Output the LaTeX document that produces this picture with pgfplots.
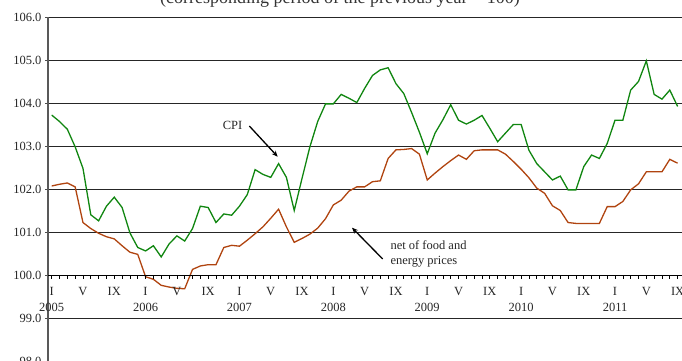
\documentclass[border=0pt]{standalone}
\usepackage{fontspec}
\setmainfont{Liberation Serif}
\usepackage{pgfplots}
\usepackage{pgfplotstable}
\pgfplotsset{compat=1.18}
\usetikzlibrary{arrows.meta}
\definecolor{cpigreen}{RGB}{16,134,16}
\definecolor{corebrown}{RGB}{176,68,16}

\pgfplotstableread{
i cpi core
0 103.72 102.07
1 103.57 102.11
2 103.39 102.14
3 102.98 102.05
4 102.48 101.22
5 101.40 101.08
6 101.26 100.97
7 101.60 100.89
8 101.81 100.84
9 101.57 100.68
10 100.98 100.53
11 100.64 100.48
12 100.56 99.96
13 100.68 99.90
14 100.42 99.76
15 100.72 99.72
16 100.91 99.69
17 100.79 99.68
18 101.08 100.13
19 101.60 100.21
20 101.57 100.24
21 101.22 100.24
22 101.42 100.64
23 101.39 100.69
24 101.60 100.67
25 101.87 100.81
26 102.45 100.96
27 102.34 101.12
28 102.27 101.32
29 102.59 101.53
30 102.27 101.12
31 101.50 100.76
32 102.25 100.85
33 102.98 100.95
34 103.57 101.09
35 103.98 101.31
36 103.98 101.63
37 104.20 101.74
38 104.11 101.95
39 104.01 102.05
40 104.34 102.05
41 104.64 102.17
42 104.77 102.19
43 104.82 102.71
44 104.45 102.91
45 104.22 102.92
46 103.78 102.94
47 103.32 102.81
48 102.82 102.21
49 103.30 102.37
50 103.61 102.52
51 103.96 102.66
52 103.60 102.79
53 103.51 102.69
54 103.60 102.89
55 103.71 102.91
56 103.41 102.91
57 103.10 102.91
58 103.30 102.81
59 103.50 102.64
60 103.50 102.46
61 102.90 102.26
62 102.59 102.02
63 102.40 101.90
64 102.21 101.61
65 102.30 101.50
66 101.98 101.22
67 101.98 101.20
68 102.52 101.20
69 102.79 101.20
70 102.71 101.20
71 103.06 101.59
72 103.60 101.59
73 103.60 101.71
74 104.30 101.98
75 104.50 102.12
76 104.98 102.40
77 104.20 102.40
78 104.09 102.40
79 104.30 102.69
80 103.92 102.60
}\datatable

\begin{document}
\begin{tikzpicture}[x=1pt,y=1pt]
\useasboundingbox (0,0) rectangle (682,361);
\clip (0,0) rectangle (682,361);
\node[anchor=base, font=\fontsize{18}{20}\selectfont, text=black!80] at (340,357.7) {(corresponding period of the previous year = 100)};
\begin{axis}[
  at={(48pt,0pt)}, anchor=south west, scale only axis,
  width=634pt, height=344pt,
  xmin=-0.47, xmax=80.56, ymin=98, ymax=106,
  axis x line=none, axis y line*=left,
  ytick={98,99,...,106}, ymajorgrids,
  grid style={black!85, line width=0.8pt},
  y axis line style={black!65, line width=1.6pt},
  tick align=outside, major tick length=3pt,
  ytick style={black!70, line width=0.8pt},
  yticklabel={\pgfmathprintnumber[fixed,fixed zerofill,precision=1,assume math mode=true]{\tick}},
  yticklabel style={font=\fontsize{12.5}{15}\selectfont, text=black!85},
]
\addplot[cpigreen, line width=1.3pt] table[x=i,y=cpi]{\datatable};
\addplot[corebrown, line width=1.3pt] table[x=i,y=core]{\datatable};
\end{axis}
\begin{axis}[
  at={(48pt,86pt)}, anchor=south west, scale only axis,
  width=634pt, height=258pt,
  xmin=-0.47, xmax=80.56, ymin=100, ymax=106,
  axis y line=none, axis x line*=bottom,
  x axis line style={black, line width=0.9pt},
  xtick={0,4,...,80}, minor x tick num=3,
  tick align=outside, major tick length=4pt, minor tick length=4pt,
  xtick style={black, line width=0.7pt},
  minor tick style={black, line width=0.7pt},
  xticklabels={{I\\2005},V,IX,{I\\2006},V,IX,{I\\2007},V,IX,{I\\2008},V,IX,{I\\2009},V,IX,{I\\2010},V,IX,{I\\2011},V,IX},
  xticklabel style={align=center, anchor=north, font=\fontsize{12.5}{15.3}\selectfont, text=black!85, yshift=-5pt},
]
\end{axis}
\node[font=\fontsize{12.5}{15}\selectfont, text=black!85] at (232.5,235.3) {CPI};
\draw[line width=1.3pt, -{Stealth[length=6pt,width=5pt]}] (249.3,235) -- (277.7,204.3);
\node[font=\fontsize{12.5}{14.6}\selectfont, text=black!85, align=left, anchor=west, inner sep=0pt] at (390.3,107) {net of food and\\energy prices};
\draw[line width=1.3pt, -{Stealth[length=6pt,width=5pt]}] (382.7,102) -- (352,133.3);
\end{tikzpicture}
\end{document}
